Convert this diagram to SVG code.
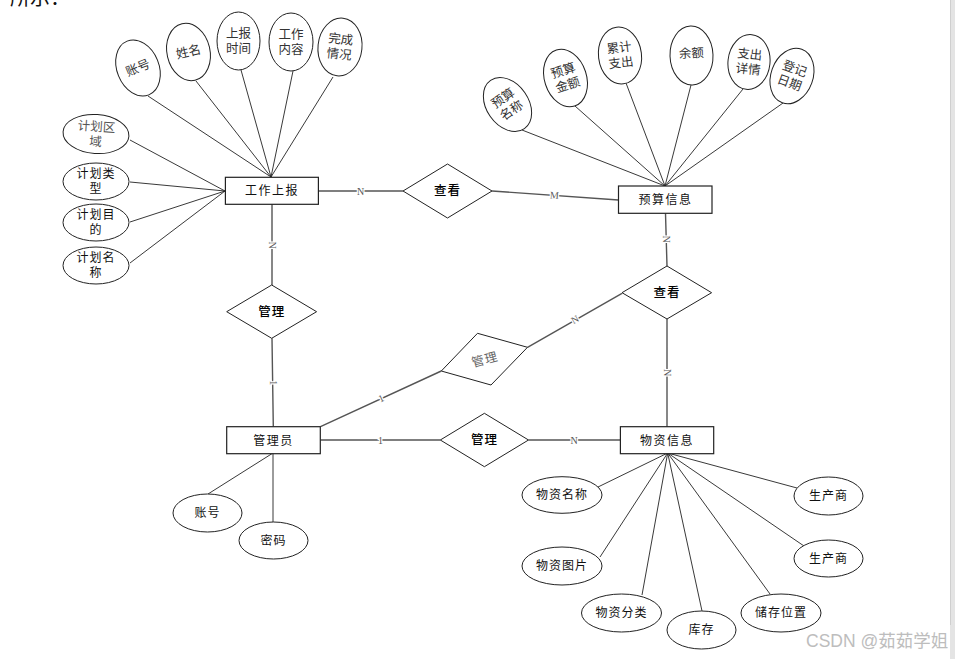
<svg xmlns="http://www.w3.org/2000/svg" width="955" height="659" viewBox="0 0 955 659">
<style>
text{font-family:"Liberation Sans","Noto Sans CJK SC",sans-serif;fill:#111;text-anchor:middle;dominant-baseline:central}
.attr ellipse{fill:#fff;stroke:#222;stroke-width:1}
.ta{font-size:12.5px;fill:#333}
.tb{font-size:12px;letter-spacing:1px}
.ent rect{fill:#fff;stroke:#222;stroke-width:1.2}
.te{font-size:12px;letter-spacing:1.5px}
.rel polygon{fill:#fff;stroke:#222;stroke-width:1}
.tr{font-size:12.5px;font-weight:500;letter-spacing:1px;fill:#000}
.al{stroke:#222;stroke-width:0.9;fill:none}
.rl{stroke:#555;stroke-width:1.4;fill:none}
.lb{font-family:"Liberation Serif",serif;font-size:10px;fill:#555;stroke:#fff;stroke-width:2.5;paint-order:stroke}
</style>
<rect x="0" y="0" width="955" height="659" fill="#fff"/>
<text x="40" y="-2" style="font-size:20px;fill:#111">所示：</text>
<rect x="950" y="0" width="5" height="659" fill="#e4e4e4"/>
<line x1="950.5" y1="0" x2="950.5" y2="659" stroke="#cfcfcf" stroke-width="1"/>

<g id="connectors">
<path class="al" d="M148,96L271,177M196,81L271,177M241,70L271,177M293,71L271,177M333,77L271,177"/>
<path class="al" d="M130,140L225,191M130,182L225,191M130,222L225,191M130,263L225,191"/>
<path class="al" d="M522,130L665,186M575,106L665,186M626,83L665,186M691,85L665,186M743,89L665,186M783,103L665,186"/>
<path class="al" d="M208,494L273,453M273,522L273,453"/>
<path class="al" d="M598,487L667.7,453M600,557L667.7,453M642,595L667.7,453M702,611L667.7,453M770,594L667.7,453M797,488L667.7,453M804,546L667.7,453"/>
<path class="rl" d="M318,191L403,191M492,191L618.5,200M665.5,213.3L667,266M667,319L667,426.7M272,204L272,285M272,338.3L273.3,426.7M320.5,426.7L441.3,371M527.5,347.3L622,293.3M320.3,440L440.3,440M528.5,440L620,440"/>
<text class="lb" x="360.5" y="191">N</text>
<text class="lb" x="554.5" y="195" transform="rotate(4 554.5 195)">M</text>
<text class="lb" x="666" y="239" transform="rotate(90 666 239)">N</text>
<text class="lb" x="667" y="372.7" transform="rotate(90 667 372.7)">N</text>
<text class="lb" x="272" y="245" transform="rotate(90 272 245)">N</text>
<text class="lb" x="273" y="382.7" transform="rotate(90 273 382.7)">1</text>
<text class="lb" x="381" y="398.3" transform="rotate(-24.8 381 398.3)">1</text>
<text class="lb" x="574.8" y="319.3" transform="rotate(-29.7 574.8 319.3)">N</text>
<text class="lb" x="380.5" y="440">1</text>
<text class="lb" x="574" y="440">N</text>
</g>

<g id="work_report" class="ent"><rect x="225.4" y="177.3" width="93" height="27"/><text class="te" x="272" y="191">工作上报</text></g>
<g id="budget_info" class="ent"><rect x="618.5" y="186" width="93.5" height="27.3"/><text class="te" x="665.5" y="200">预算信息</text></g>
<g id="admin" class="ent"><rect x="226.7" y="426.7" width="93.6" height="27"/><text class="te" x="273.5" y="440.5">管理员</text></g>
<g id="material_info" class="ent"><rect x="620.4" y="426.7" width="93.3" height="27"/><text class="te" x="667" y="440.5">物资信息</text></g>

<g id="rel_view1" class="rel"><polygon points="403,191 447.5,164 492,191 447.5,218"/><text class="tr" x="447.5" y="191">查看</text></g>
<g id="rel_view2" class="rel"><polygon points="622,292.7 667,266 711.6,292.7 667,319"/><text class="tr" x="667" y="292.7">查看</text></g>
<g id="rel_manage1" class="rel"><polygon points="226.7,311.7 271.7,285 316.6,311.7 271.7,338.3"/><text class="tr" x="271.7" y="311.7">管理</text></g>
<g id="rel_manage2" class="rel"><polygon points="440.3,440 484.4,413.3 528.5,440 484.4,466.7"/><text class="tr" x="484.4" y="440">管理</text></g>
<g id="rel_manage3" class="rel"><polygon points="477.5,333.3 527.5,347.3 491,385 441.3,371"/><text x="485" y="360" transform="rotate(-15 485 360)" style="font-size:12.5px;fill:#666;letter-spacing:1px">管理</text></g>

<g id="attr_wr_account" class="attr" transform="translate(138,68) rotate(-22)"><ellipse rx="21" ry="29"/><text class="ta" x="0" y="0">账号</text></g>
<g id="attr_wr_name" class="attr" transform="translate(188.5,52) rotate(-13)"><ellipse rx="21.5" ry="29"/><text class="ta" x="0" y="0">姓名</text></g>
<g id="attr_wr_time" class="attr" transform="translate(238.5,41)"><ellipse rx="21.5" ry="29"/><text class="ta" x="0" y="-7.5">上报</text><text class="ta" x="0" y="7.5">时间</text></g>
<g id="attr_wr_content" class="attr" transform="translate(291,42)"><ellipse rx="22" ry="29"/><text class="ta" x="0" y="-7.5">工作</text><text class="ta" x="0" y="7.5">内容</text></g>
<g id="attr_wr_status" class="attr" transform="translate(340,47) rotate(6)"><ellipse rx="22" ry="29"/><text class="ta" x="0" y="-7.5">完成</text><text class="ta" x="0" y="7.5">情况</text></g>

<g id="attr_plan_area" class="attr" transform="translate(96,134) rotate(4)"><ellipse rx="33" ry="19.5"/><text class="ta" x="0" y="-7" style="fill:#555">计划区</text><text class="ta" x="0" y="8" style="fill:#555">域</text></g>
<g id="attr_plan_type" class="attr" transform="translate(96,181.5)"><ellipse rx="33" ry="18.5"/><text class="tb" x="0" y="-7.5">计划类</text><text class="tb" x="0" y="7.5">型</text></g>
<g id="attr_plan_goal" class="attr" transform="translate(96,222.5)"><ellipse rx="33" ry="18.5"/><text class="tb" x="0" y="-7.5">计划目</text><text class="tb" x="0" y="7.5">的</text></g>
<g id="attr_plan_name" class="attr" transform="translate(96,265.5)"><ellipse rx="33" ry="18.5"/><text class="tb" x="0" y="-7.5">计划名</text><text class="tb" x="0" y="7.5">称</text></g>

<g id="attr_bg_name" class="attr" transform="translate(507.5,104.5) rotate(-35)"><ellipse rx="21" ry="29.5"/><text class="ta" x="0" y="-7.5">预算</text><text class="ta" x="0" y="7.5">名称</text></g>
<g id="attr_bg_amount" class="attr" transform="translate(565.5,78) rotate(-18)"><ellipse rx="21" ry="29.5"/><text class="ta" x="0" y="-7.5">预算</text><text class="ta" x="0" y="7.5">金额</text></g>
<g id="attr_bg_total" class="attr" transform="translate(620,55.5) rotate(-7)"><ellipse rx="21.5" ry="28.5"/><text class="ta" x="0" y="-7.5">累计</text><text class="ta" x="0" y="7.5">支出</text></g>
<g id="attr_bg_balance" class="attr" transform="translate(691.5,55.5) rotate(-2)"><ellipse rx="21.5" ry="29.5"/><text class="ta" x="0" y="-2">余额</text></g>
<g id="attr_bg_detail" class="attr" transform="translate(749,62) rotate(6)"><ellipse rx="21" ry="27.5"/><text class="ta" x="0" y="-7.5">支出</text><text class="ta" x="0" y="7.5">详情</text></g>
<g id="attr_bg_date" class="attr" transform="translate(792,76) rotate(20)"><ellipse rx="21" ry="28.5"/><text class="ta" x="0" y="-7.5">登记</text><text class="ta" x="0" y="7.5">日期</text></g>

<g id="attr_ad_account" class="attr" transform="translate(207.5,513)"><ellipse rx="34.5" ry="19"/><text class="tb" x="0" y="0">账号</text></g>
<g id="attr_ad_password" class="attr" transform="translate(273.5,540.5)"><ellipse rx="34.5" ry="18.5"/><text class="tb" x="0" y="0">密码</text></g>

<g id="attr_mt_name" class="attr" transform="translate(562,495)"><ellipse rx="40" ry="18.3"/><text class="tb" x="0" y="0">物资名称</text></g>
<g id="attr_mt_image" class="attr" transform="translate(562,566)"><ellipse rx="40" ry="19"/><text class="tb" x="0" y="0">物资图片</text></g>
<g id="attr_mt_category" class="attr" transform="translate(621.5,613)"><ellipse rx="40" ry="19"/><text class="tb" x="0" y="0">物资分类</text></g>
<g id="attr_mt_stock" class="attr" transform="translate(701.5,630)"><ellipse rx="34.5" ry="19"/><text class="tb" x="0" y="0">库存</text></g>
<g id="attr_mt_location" class="attr" transform="translate(781,613)"><ellipse rx="40" ry="19"/><text class="tb" x="0" y="0">储存位置</text></g>
<g id="attr_mt_maker1" class="attr" transform="translate(828.5,496)"><ellipse rx="34.5" ry="19"/><text class="tb" x="0" y="0">生产商</text></g>
<g id="attr_mt_maker2" class="attr" transform="translate(828.5,558.5)"><ellipse rx="34.5" ry="18.5"/><text class="tb" x="0" y="0">生产商</text></g>

<text x="806" y="641" style="font-size:17.5px;fill:#bdbdbd;text-anchor:start">CSDN @茹茹学姐</text>
<rect x="950" y="625" width="5" height="34" fill="#e4e4e4"/>
</svg>
